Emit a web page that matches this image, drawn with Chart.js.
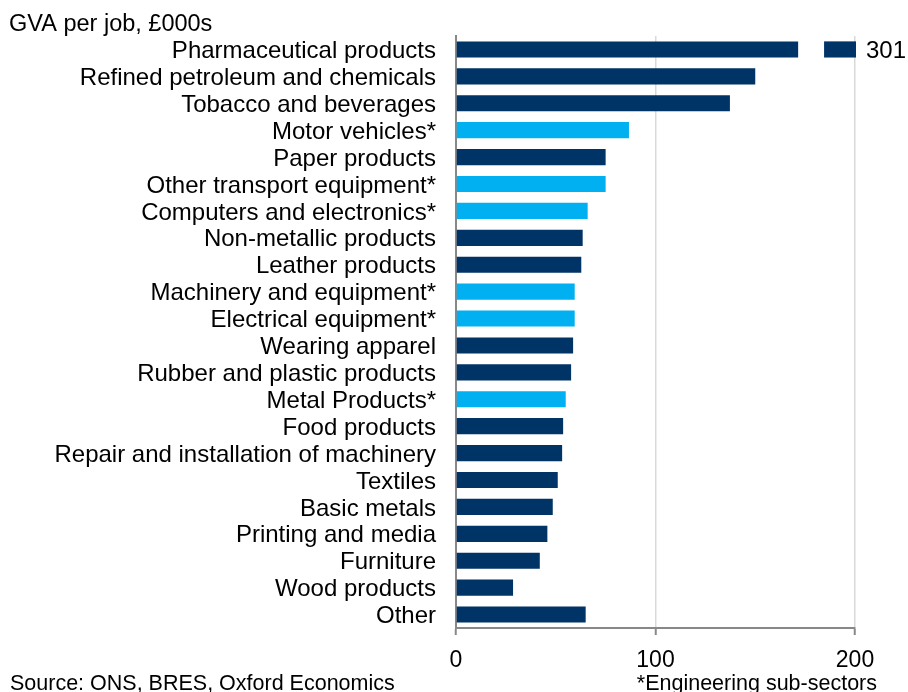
<!DOCTYPE html>
<html><head><meta charset="utf-8">
<script src="https://cdn.jsdelivr.net/npm/chart.js@4.4.1/dist/chart.umd.min.js"></script>
<style>html,body{margin:0;padding:0;background:#fff}#wrap{width:908px;height:692px;position:relative}</style>
</head><body><div id="wrap"><canvas id="c" width="908" height="692"></canvas></div>
<script>
// ---- data ----
const categories = [
  'Pharmaceutical products','Refined petroleum and chemicals','Tobacco and beverages',
  'Motor vehicles*','Paper products','Other transport equipment*','Computers and electronics*',
  'Non-metallic products','Leather products','Machinery and equipment*','Electrical equipment*',
  'Wearing apparel','Rubber and plastic products','Metal Products*','Food products',
  'Repair and installation of machinery','Textiles','Basic metals','Printing and media',
  'Furniture','Wood products','Other'
];
const values = [301, 150, 137.3, 86.7, 75, 75, 66, 63.5, 62.8, 59.5, 59.5, 58.7, 57.7, 55, 53.7, 53.2, 51, 48.5, 45.8, 42, 28.6, 65];
const xTicks = [0, 100, 200];
const axisTitle = 'GVA per job, £000s';
const sourceNote = 'Source: ONS, BRES, Oxford Economics';
const engNote = '*Engineering sub-sectors';

// ---- broken-axis display settings ----
const axisMax = 200;
const breakStart = 171.5, breakResume = 184.5, breakEnd = 200.5;

const NAVY = '#003366', SKY = '#00B0F0';
const FONT = '"Liberation Sans", Arial, sans-serif';

const colors = categories.map(c => c.endsWith('*') ? SKY : NAVY);
const mainData = values.map(v => v > axisMax ? breakStart : v);
const breakData = values.map(v => v > axisMax ? [breakResume, breakEnd] : null);

const notesPlugin = {
  id: 'notes',
  afterDraw(chart) {
    const c = chart.ctx;
    c.save();
    c.fillStyle = '#000';
    c.textBaseline = 'alphabetic';
    c.textAlign = 'left';
    c.font = '23.5px ' + FONT;
    c.fillText(axisTitle, 9, 31);
    c.font = '21.5px ' + FONT;
    c.fillText(sourceNote, 10, 690);
    c.textAlign = 'right';
    c.fillText(engNote, 877, 690);
    const xs = chart.scales.x, ys = chart.scales.y;
    values.forEach((v, i) => {
      if (v > axisMax) {
        c.font = '24px ' + FONT;
        c.textAlign = 'left';
        c.textBaseline = 'middle';
        c.fillText(String(v), xs.getPixelForValue(breakEnd) + 10, ys.getPixelForValue(i) + 2);
      }
    });
    c.restore();
  }
};

new Chart(document.getElementById('c'), {
  type: 'bar',
  data: {
    labels: categories,
    datasets: [
      { data: mainData, backgroundColor: colors, categoryPercentage: 1, barPercentage: 0.6, grouped: false, clip: false },
      { data: breakData, backgroundColor: NAVY, categoryPercentage: 1, barPercentage: 0.6, grouped: false, clip: false }
    ]
  },
  options: {
    indexAxis: 'y',
    responsive: false,
    animation: false,
    layout: { padding: { top: 36, right: 53, left: 0, bottom: 0 } },
    plugins: { legend: { display: false }, tooltip: { enabled: false }, title: { display: false } },
    scales: {
      x: {
        min: 0, max: axisMax,
        afterBuildTicks: s => { s.ticks = xTicks.map(v => ({ value: v })); },
        grid: {
          color: c => (c.tick && c.tick.value === 0) ? '#888888' : '#d9d9d9',
          lineWidth: 1.5, tickColor: '#888888', tickLength: 7, tickWidth: 2, drawTicks: true
        },
        border: { display: true, color: '#888888', width: 2 },
        ticks: { font: { family: FONT, size: 23 }, color: '#000', padding: 12, maxRotation: 0 },
        afterFit: s => { s.height = 64; }
      },
      y: {
        z: 1,
        grid: { display: false, drawTicks: false },
        border: { display: true, color: '#888888', width: 2 },
        ticks: { font: { family: FONT, size: 24 }, color: '#000', padding: 20, autoSkip: false, labelOffset: 2 },
        afterFit: s => { s.width = 456; }
      }
    }
  },
  plugins: [notesPlugin]
});
</script>
</body></html>
